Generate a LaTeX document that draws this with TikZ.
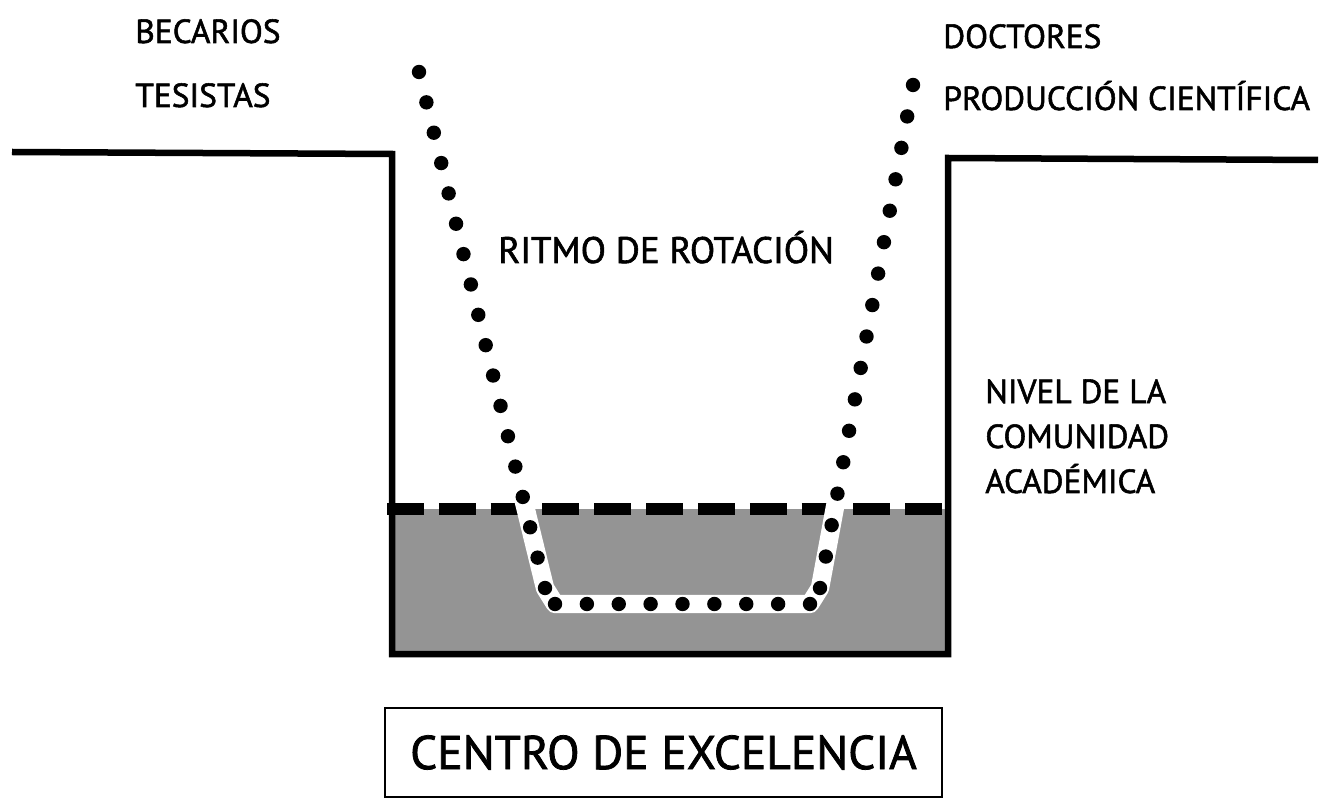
\documentclass[tikz,border=0pt]{standalone}
\usepackage{fontspec}
\setmainfont{PT Sans}[FakeBold=1.6]
\usetikzlibrary{calc}
\definecolor{nivelgray}{gray}{0.58}
\tikzset{rotulo/.style={anchor=base west, inner sep=0pt, align=left, font=\fontsize{19}{25.6}\selectfont}}
\tikzset{muro/.style={line width=3.7pt, line join=miter}}
\newcommand{\hilera}[3]{\foreach \i in {0,...,#3} \fill ($(#1)!\i/#3!(#2)$) circle (7.2);}

\begin{document}
\begin{tikzpicture}[x=0.02cm, y=-0.02cm]
\useasboundingbox (0,0) rectangle (1326,800);
% puntos del recorrido
\coordinate (lt) at (419,72);
\coordinate (lb) at (545,588);
\coordinate (bl) at (555,604);
\coordinate (br) at (810,604);
\coordinate (rb) at (820,588);
\coordinate (rt) at (913,85);
% nivel de la comunidad
\fill[nivelgray] (392,509) rectangle (948,654);
\draw[line width=6.8pt, dash pattern=on 21pt off 8.5pt] (387,509) -- (948,509);
\draw[white, line width=10.5pt, line join=round] (lt) -- (lb) -- (bl) -- (br) -- (rb) -- (rt);
\hilera{lt}{lb}{17}
\hilera{bl}{br}{8}
\hilera{rb}{rt}{16}
% pozo
\draw[muro] (12,152) -- (392,154) -- (392,654) -- (948,654) -- (948,158) -- (1318,160);
% textos
\node[rotulo] (becarios) at (135,43) {BECARIOS};
\node[rotulo] (tesistas) at (135,107) {TESISTAS};
\node[rotulo] (doctores) at (943,48) {DOCTORES};
\node[rotulo] (produccion) at (943,110) {PRODUCCIÓN CIENTÍFICA};
\node[rotulo, font=\fontsize{21}{25.6}\selectfont] (ritmo) at (498,263) {RITMO DE ROTACIÓN};
\node[rotulo] (nivel) at (985,493) {NIVEL DE LA\\COMUNIDAD\\ACADÉMICA};
\node[draw, line width=1.2pt, minimum width=11.14cm, minimum height=1.78cm, font=\fontsize{27}{32}\selectfont] (centro) at (663.5,752.5) {CENTRO DE EXCELENCIA};
\end{tikzpicture}
\end{document}
